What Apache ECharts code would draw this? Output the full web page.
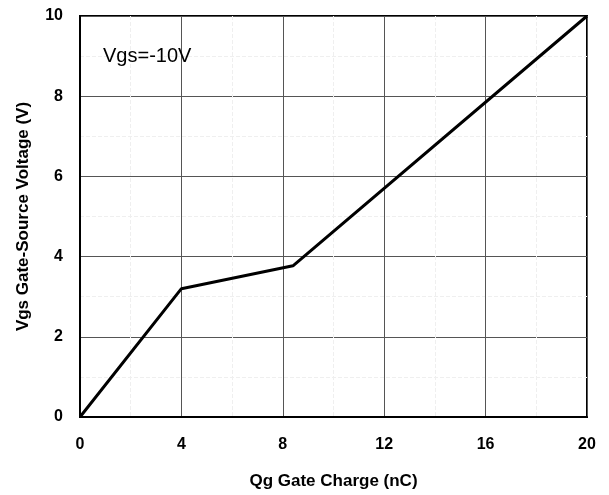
<!DOCTYPE html>
<html><head><meta charset="utf-8">
<script src="https://cdn.jsdelivr.net/npm/echarts@6/dist/echarts.min.js"></script>
<style>html,body{margin:0;padding:0;background:#fff}#c{width:609px;height:495px}</style>
</head><body><div id="c"></div>
<script>
const qg = [0, 4, 8.4, 20];
const vgs = [0, 3.2, 3.77, 10];
const xTicks = [0, 4, 8, 12, 16, 20];
const yTicks = [0, 2, 4, 6, 8, 10];
const note = 'Vgs=-10V';
const xName = 'Qg Gate Charge (nC)';
const yName = 'Vgs Gate-Source Voltage (V)';

const chart = echarts.init(document.getElementById('c'));
const lbl = {fontFamily:'Liberation Sans, Arial', fontWeight:'bold', fontSize:16, color:'#000'};
const nm = {fontFamily:'Liberation Sans, Arial', fontWeight:'bold', fontSize:17, color:'#000'};
chart.setOption({
  animation:false,
  grid:{left:80, right:22, top:16, bottom:77, show:true, borderColor:'#000', borderWidth:2},
  xAxis:{type:'value', min:0, max:20, interval:4,
    name:xName, nameLocation:'middle', nameGap:56, nameTextStyle:nm,
    axisLine:{lineStyle:{color:'#000', width:2}}, axisTick:{show:false},
    axisLabel:Object.assign({margin:20}, lbl),
    splitLine:{show:true, lineStyle:{color:'#555', width:1}},
    minorTick:{show:false, splitNumber:2},
    minorSplitLine:{show:true, lineStyle:{color:'#efefef', type:'dashed'}}},
  yAxis:{type:'value', min:0, max:10, interval:2,
    name:yName, nameLocation:'middle', nameGap:48, nameRotate:90, nameTextStyle:nm,
    axisLine:{lineStyle:{color:'#000', width:2}}, axisTick:{show:false},
    axisLabel:Object.assign({margin:17}, lbl),
    splitLine:{show:true, lineStyle:{color:'#555', width:1}},
    minorTick:{show:false, splitNumber:2},
    minorSplitLine:{show:true, lineStyle:{color:'#efefef', type:'dashed'}}},
  graphic:[{type:'text', left:103, top:46, z:100, style:{text:note, fontFamily:'Liberation Sans, Arial', fontSize:20, fill:'#000'}}],
  series:[{type:'line', data:qg.map((x,i)=>[x, vgs[i]]), symbol:'none',
    lineStyle:{color:'#000', width:3}}]
});
</script></body></html>
